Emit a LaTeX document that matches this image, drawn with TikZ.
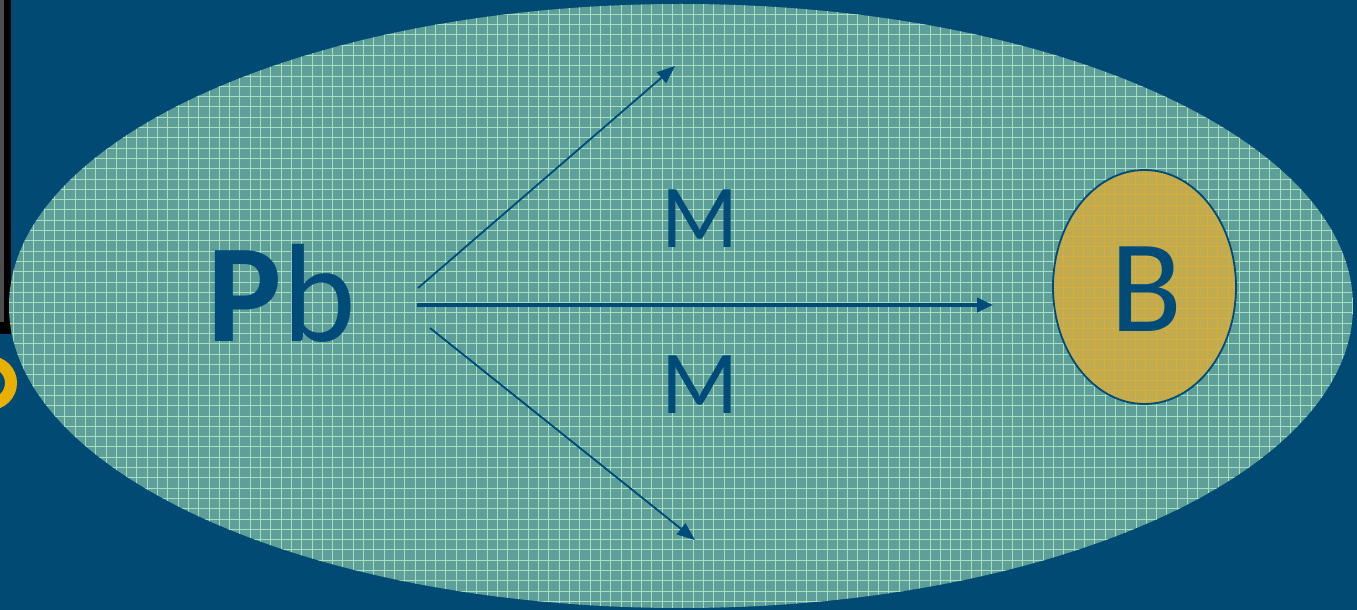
\documentclass[tikz,border=0pt]{standalone}
\usepackage{fontspec}
\setmainfont{Carlito}
\usetikzlibrary{arrows.meta}
\definecolor{bgblue}{HTML}{004A74}
\definecolor{teal}{HTML}{5E9F9A}
\definecolor{gridg}{HTML}{A6DEC0}
\definecolor{ochre}{HTML}{C2AA4E}
\definecolor{gridy}{HTML}{E2B234}
\definecolor{ink}{HTML}{004B78}
\definecolor{gold}{HTML}{E8B000}
\tikzset{
  conn/.style={draw=ink, line width=0.9pt, -{Triangle[length=9pt,width=7pt]}},
  mainconn/.style={draw=ink, line width=2pt, -{Triangle[length=8pt,width=7pt]}},
  lbl/.style={text=ink, inner sep=0pt, anchor=base},
  gline/.style={gridg, line width=0.5pt},
  yline/.style={gridy, line width=0.5pt, opacity=0.6},
}
\begin{document}
\begin{tikzpicture}[x=0.5pt,y=-0.5pt]
\useasboundingbox (0,0) rectangle (1357,610);
\fill[bgblue] (0,0) rectangle (1357,610);
% left dark panel
\fill[black] (0,0) rectangle (11,334);
\fill[black!70] (0,0) rectangle (4,322);
% yellow ring fragment
\begin{scope}
\clip (0,340) rectangle (30,420);
\draw[gold, line width=6pt] (-10,383) circle (21);
\end{scope}
% main ellipse
\fill[teal] (681,306) ellipse [x radius=672, y radius=302];
\begin{scope}
\clip (681,306) ellipse [x radius=672, y radius=302];
\foreach \i in {0,10.3,...,1360} \draw[gline] (\i+3,0) -- (\i+3,610);
\foreach \j in {0,10.3,...,610} \draw[gline] (0,\j+4) -- (1357,\j+4);
\end{scope}
% small ellipse
\fill[ochre] (1144.5,287) ellipse [x radius=91.5, y radius=117];
\begin{scope}
\clip (1144.5,287) ellipse [x radius=91.5, y radius=117];
\foreach \i in {1050,1060.3,...,1240} \draw[yline] (\i+3,160) -- (\i+3,410);
\foreach \j in {160,170.3,...,410} \draw[yline] (1040,\j+4) -- (1250,\j+4);
\end{scope}
\draw[ink, line width=0.9pt] (1144.5,287) ellipse [x radius=91.5, y radius=117];
% labels
\node[lbl, font=\fontsize{70pt}{70pt}\selectfont] (pb) at (282,342) {\textbf{P}b};
\node[lbl, font=\fontsize{66pt}{66pt}\selectfont] (b) at (1146,332) {B};
\node[lbl, font=\fontsize{45pt}{45pt}\selectfont] (m1) at (700,248) {M};
\node[lbl, font=\fontsize{45pt}{45pt}\selectfont] (m2) at (700,414) {M};
% arrows
\coordinate (s1) at (418,288);
\coordinate (e1) at (675,66);
\coordinate (s2) at (417,305);
\coordinate (e2) at (993,305);
\coordinate (s3) at (430,328);
\coordinate (e3) at (695,540);
\draw[conn] (s1) -- (e1);
\draw[mainconn] (s2) -- (e2);
\draw[conn] (s3) -- (e3);
\end{tikzpicture}
\end{document}
